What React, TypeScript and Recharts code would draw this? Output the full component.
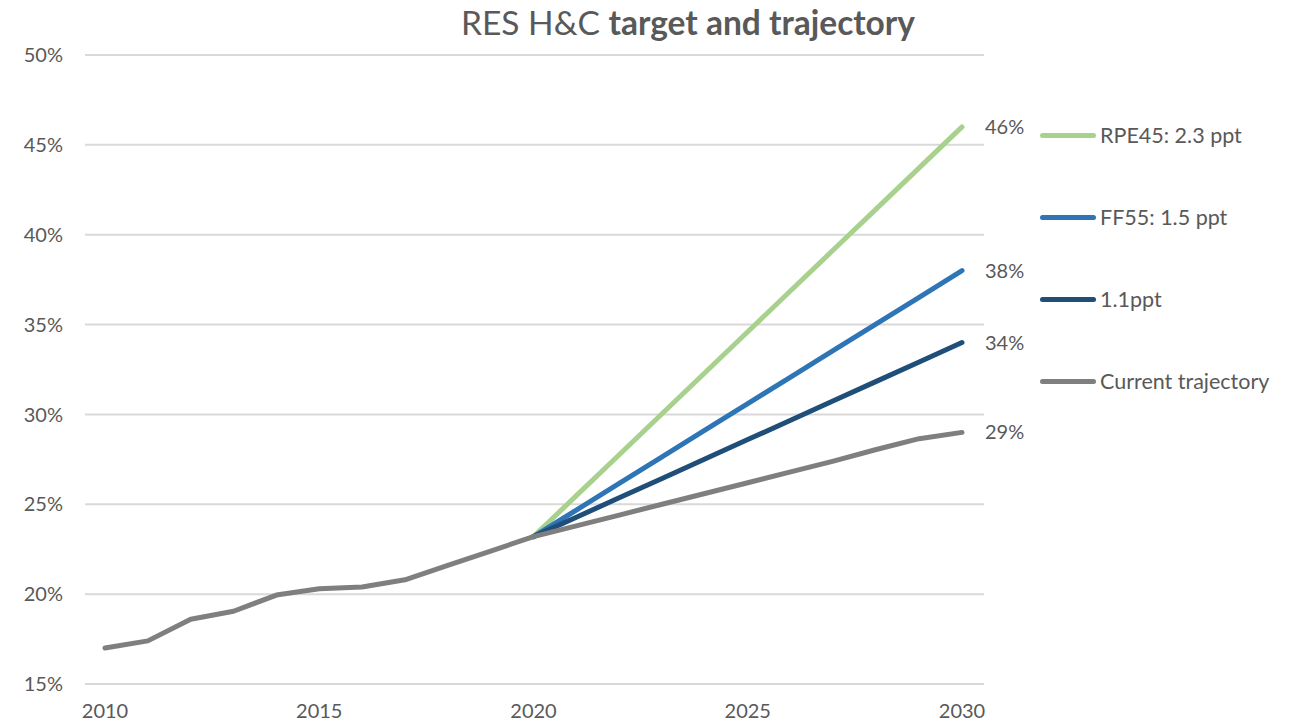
import { LineChart, Line, XAxis, YAxis, CartesianGrid, Legend } from "recharts";

const years = [2010, 2011, 2012, 2013, 2014, 2015, 2016, 2017, 2018, 2019, 2020, 2021, 2022, 2023, 2024, 2025, 2026, 2027, 2028, 2029, 2030];

// shares in %
const current = [17.0, 17.4, 18.6, 19.05, 19.95, 20.3, 20.4, 20.8, 21.6, 22.4, 23.2, 23.8, 24.4, 25.0, 25.6, 26.2, 26.8, 27.4, 28.05, 28.65, 29.0];
const ppt11 = [null, null, null, null, null, null, null, null, null, null, 23.2, 24.28, 25.36, 26.44, 27.52, 28.6, 29.68, 30.76, 31.84, 32.92, 34.0];
const ff55 = [null, null, null, null, null, null, null, null, null, null, 23.2, 24.68, 26.16, 27.64, 29.12, 30.6, 32.08, 33.56, 35.04, 36.52, 38.0];
const rpe45 = [null, null, null, null, null, null, null, null, null, null, 23.2, 25.48, 27.76, 30.04, 32.32, 34.6, 36.88, 39.16, 41.44, 43.72, 46.0];

const yTicks = [15, 20, 25, 30, 35, 40, 45, 50];
const xTicks = [2010, 2015, 2020, 2025, 2030];

const SERIES = [
  { key: "rpe45", name: "RPE45: 2.3 ppt", color: "#a9d18e" },
  { key: "ff55", name: "FF55: 1.5 ppt", color: "#2e75b6" },
  { key: "ppt11", name: "1.1ppt", color: "#1f4e79" },
  { key: "current", name: "Current trajectory", color: "#7f7f7f" },
];

const data = years.map((year, i) => ({
  year,
  current: current[i],
  ppt11: ppt11[i],
  ff55: ff55[i],
  rpe45: rpe45[i],
}));

const FONT = "Lato, 'Open Sans', sans-serif";
const TEXT = "#595959";

function endLabel(props: any) {
  const { x, y, index, value } = props;
  if (index !== years.length - 1) return null;
  return (
    <text x={x + 23} y={y + 7} fill={TEXT} fontSize={20} fontFamily={FONT}>
      {Math.round(value)}%
    </text>
  );
}

function LegendBox() {
  return (
    <div style={{ position: "relative", width: 260, height: 300 }}>
      {SERIES.map((s, i) => (
        <div
          key={s.key}
          style={{ position: "absolute", left: 0, top: i * 82, display: "flex", alignItems: "center", height: 24 }}
        >
          <div style={{ width: 56, height: 5, borderRadius: 3, background: s.color, marginRight: 4 }} />
          <span style={{ fontSize: 21.5, color: TEXT, fontFamily: FONT, whiteSpace: "nowrap" }}>{s.name}</span>
        </div>
      ))}
    </div>
  );
}

export default function App() {
  return (
    <div style={{ position: "relative", width: 1296, height: 717 }}>
      <div
        style={{
          position: "absolute",
          top: -6,
          left: 0,
          width: 1360,
          textAlign: "center",
          fontFamily: FONT,
          fontSize: 33.5,
          color: TEXT,
          lineHeight: "40px",
        }}
      >
        RES H&amp;C <b>target and trajectory</b>
      </div>
      <LineChart width={1296} height={717} data={data} margin={{ top: 47, right: 60, bottom: 0, left: 0 }}>
        <CartesianGrid horizontal vertical={false} stroke="#d9d9d9" strokeWidth={2} />
        <XAxis
          dataKey="year"
          type="number"
          domain={[2010, 2030]}
          ticks={xTicks}
          padding={{ left: 20, right: 22 }}
          axisLine={false}
          tickLine={false}
          tickSize={0}
          tickMargin={20}
          height={41}
          tick={{ fill: TEXT, fontSize: 20, fontFamily: FONT }}
          interval={0}
        />
        <YAxis
          type="number"
          domain={[15, 50]}
          ticks={yTicks}
          axisLine={false}
          tickLine={false}
          tickSize={0}
          tickMargin={22}
          width={77}
          tickFormatter={(v: number) => `${v}%`}
          tick={{ fill: TEXT, fontSize: 20, fontFamily: FONT }}
        />
        <Legend
          layout="vertical"
          align="right"
          verticalAlign="top"
          content={() => <LegendBox />}
          wrapperStyle={{ left: 1032, top: 115, width: 260 }}
        />
        {SERIES.map((s) => (
          <Line
            key={s.key}
            dataKey={s.key}
            name={s.name}
            type="linear"
            stroke={s.color}
            strokeWidth={5}
            strokeLinecap="round"
            strokeLinejoin="round"
            dot={false}
            connectNulls={false}
            isAnimationActive={false}
            label={endLabel}
          />
        ))}
      </LineChart>
    </div>
  );
}
